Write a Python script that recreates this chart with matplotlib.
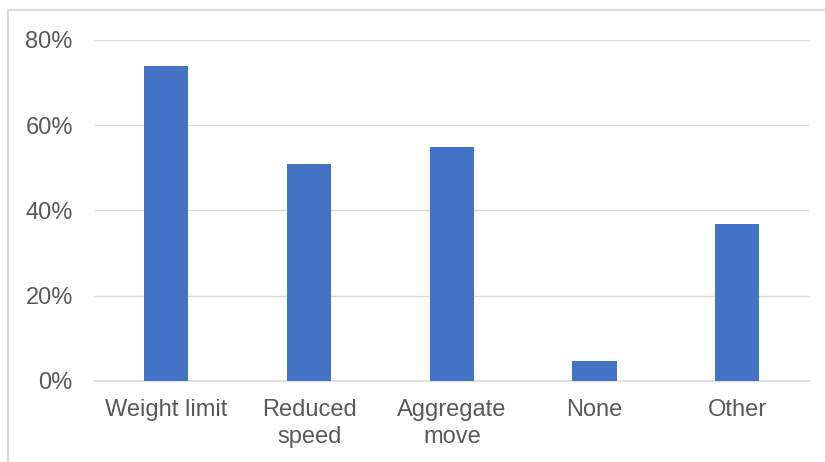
import matplotlib.pyplot as plt
from matplotlib.patches import Rectangle
from matplotlib.ticker import PercentFormatter

# share of responses per measure
categories = ["Weight limit", "Reduced\nspeed", "Aggregate\nmove", "None", "Other"]
shares = [73.8, 51.0, 54.8, 4.7, 36.7]
y_ticks = [0, 20, 40, 60, 80]

bar_color = "#4472C4"
grid_color = "#D9D9D9"
text_color = "#595959"

plt.rcParams["font.family"] = ["Liberation Sans", "DejaVu Sans"]

fig = plt.figure(figsize=(8.25, 4.62), dpi=100)
ax = fig.add_axes([95 / 825, 1 - 380.7 / 462, (808.7 - 95) / 825, (380.7 - 40) / 462])

x = range(len(categories))
ax.bar(x, shares, width=0.31, color=bar_color, zorder=3)

ax.set_xlim(-0.5, len(categories) - 0.5)
ax.set_ylim(0, 80)
ax.set_yticks(y_ticks)
ax.yaxis.set_major_formatter(PercentFormatter(decimals=0))
ax.set_xticks(list(x))
ax.set_xticklabels(categories, linespacing=1.3)

ax.grid(axis="y", color=grid_color, linewidth=1.0, zorder=0)
ax.set_axisbelow(True)
for side in ["top", "right", "left"]:
    ax.spines[side].set_visible(False)
ax.spines["bottom"].set_color(grid_color)
ax.spines["bottom"].set_linewidth(1.2)

ax.tick_params(axis="both", length=0, labelsize=17, colors=text_color)
ax.tick_params(axis="y", pad=16)
ax.tick_params(axis="x", pad=13)

# light outer frame of the chart area
frame = Rectangle((8 / 825, -0.5), 1.5, 1.5 - 10 / 462, transform=fig.transFigure,
                  fill=False, edgecolor=grid_color, linewidth=1.5)
fig.patches.append(frame)

fig.savefig("out.png", dpi=100)
